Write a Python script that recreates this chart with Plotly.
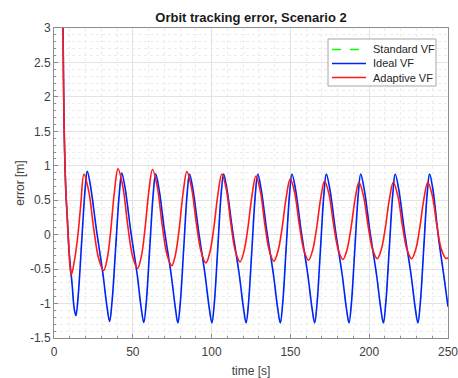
import plotly.graph_objects as go

# ---- data ----
time_adaptive = [5.3, 5.7, 6.35, 7.4, 8.5, 9.5, 10.3, 11.0,
                 12.8, 14.8, 16.9, 19.0,
                 22.1, 25.25, 28.4, 31.5,
                 33.8, 36.05, 38.3, 40.6,
                 43.7, 46.8, 49.9, 53.0,
                 55.4, 57.75, 60.1, 62.5,
                 65.55, 68.6, 71.65, 74.7,
                 77.1, 79.5, 81.9, 84.3,
                 87.3, 90.35, 93.4, 96.4,
                 98.9, 101.45, 104.0, 106.5,
                 109.4, 112.25, 115.1, 118.0,
                 120.5, 123.05, 125.6, 128.1,
                 130.95, 133.8, 136.65, 139.5,
                 142.1, 144.7, 147.3, 149.9,
                 152.8, 155.7, 158.6, 161.5,
                 164.05, 166.6, 169.15, 171.7,
                 174.6, 177.5, 180.4, 183.3,
                 185.85, 188.4, 190.95, 193.5,
                 196.4, 199.3, 202.2, 205.1,
                 207.65, 210.2, 212.75, 215.3,
                 218.2, 221.1, 224.0, 226.9,
                 229.5, 232.05, 234.6, 237.2,
                 240.1, 242.95, 245.8, 248.7, 250.0]
error_adaptive = [3.6, 3.05, 1.66, 0.70, 0.21, -0.22, -0.50, -0.585,
                  -0.40, -0.08, 0.41, 0.875,
                  0.624, 0.08, -0.353, -0.52,
                  -0.343, 0.07, 0.616, 0.955,
                  0.695, 0.131, -0.317, -0.49,
                  -0.318, 0.084, 0.615, 0.945,
                  0.694, 0.15, -0.283, -0.45,
                  -0.286, 0.096, 0.601, 0.915,
                  0.676, 0.16, -0.251, -0.41,
                  -0.255, 0.106, 0.583, 0.88,
                  0.651, 0.153, -0.242, -0.395,
                  -0.246, 0.103, 0.564, 0.85,
                  0.628, 0.146, -0.237, -0.385,
                  -0.242, 0.093, 0.535, 0.81,
                  0.598, 0.137, -0.228, -0.37,
                  -0.232, 0.09, 0.516, 0.78,
                  0.575, 0.13, -0.223, -0.36,
                  -0.226, 0.088, 0.502, 0.76,
                  0.56, 0.127, -0.217, -0.35,
                  -0.217, 0.094, 0.505, 0.76,
                  0.56, 0.127, -0.217, -0.35,
                  -0.217, 0.094, 0.505, 0.76,
                  0.561, 0.13, -0.212, -0.345, -0.335]

time_ideal = [5.3, 5.7, 6.35, 7.4, 8.5, 9.5, 11.6, 12.8, 13.9,
              15.3, 17.5, 19.7, 21.1, 23.2, 26.8, 31.0, 33.6, 35.3,
              36.8, 39.15, 41.5, 43.0, 45.1, 48.6, 52.8, 55.3, 57.0,
              58.5, 60.75, 63.0, 64.5, 66.6, 70.1, 74.4, 77.0, 78.6,
              80.1, 82.3, 84.5, 86.0, 88.1, 91.7, 95.9, 98.5, 100.2,
              101.7, 103.9, 106.1, 107.6, 109.7, 113.3, 117.6, 120.2, 121.9,
              123.4, 125.6, 127.8, 129.3, 131.4, 135.0, 139.3, 141.9, 143.6,
              145.1, 147.3, 149.5, 151.0, 153.2, 156.8, 161.1, 163.7, 165.4,
              166.9, 169.1, 171.3, 172.8, 175.0, 178.6, 182.9, 185.5, 187.2,
              188.7, 190.9, 193.1, 194.6, 196.8, 200.4, 204.7, 207.3, 209.0,
              210.5, 212.75, 215.0, 216.5, 218.7, 222.3, 226.6, 229.2, 230.9,
              232.4, 234.6, 236.8, 238.3, 240.4, 244.0, 247.5, 250.0]
error_ideal = [3.6, 3.05, 1.66, 0.70, 0.21, -0.22, -0.75, -1.07, -1.175,
               -0.903, -0.127, 0.648, 0.92, 0.702, 0.092, -0.562, -1.042, -1.26,
               -0.98, -0.182, 0.615, 0.895, 0.678, 0.07, -0.581, -1.058, -1.275,
               -0.994, -0.195, 0.604, 0.885, 0.669, 0.062, -0.587, -1.063, -1.28,
               -0.999, -0.2, 0.599, 0.88, 0.664, 0.059, -0.589, -1.064, -1.28,
               -0.999, -0.2, 0.599, 0.88, 0.664, 0.059, -0.589, -1.064, -1.28,
               -0.999, -0.2, 0.599, 0.88, 0.664, 0.059, -0.589, -1.064, -1.28,
               -0.999, -0.2, 0.599, 0.88, 0.664, 0.059, -0.589, -1.064, -1.28,
               -0.999, -0.2, 0.599, 0.88, 0.664, 0.059, -0.589, -1.064, -1.28,
               -0.999, -0.2, 0.599, 0.88, 0.664, 0.059, -0.589, -1.064, -1.28,
               -0.999, -0.2, 0.599, 0.88, 0.664, 0.059, -0.589, -1.064, -1.28,
               -0.999, -0.2, 0.599, 0.88, 0.66, -0.05, -0.62, -1.045]

# Standard VF coincides with the Ideal VF curve (hidden underneath it)
time_standard = time_ideal
error_standard = error_ideal

series_names = ["Standard VF", "Ideal VF", "Adaptive VF"]
series_colors = ["#00ff00", "#0022ff", "#ff1a1a"]
series_dash = ["dash", "solid", "solid"]
series_width = [0.8, 1.6, 1.6]

x_tick_vals = [0, 50, 100, 150, 200, 250]
x_tick_text = ["0", "50", "100", "150", "200", "250"]
y_tick_vals = [-1.5, -1, -0.5, 0, 0.5, 1, 1.5, 2, 2.5, 3]
y_tick_text = ["-1.5", "-1", "-0.5", "0", "0.5", "1", "1.5", "2", "2.5", "3"]

FONT = "Liberation Sans, Arial, sans-serif"

W, H = 458, 378
ML, MR, MT, MB = 54, 10, 28, 40
PW, PH = W - ML - MR, H - MT - MB

fig = go.Figure()
for name, t, e, c, d, w in zip(series_names,
                               [time_standard, time_ideal, time_adaptive],
                               [error_standard, error_ideal, error_adaptive],
                               series_colors, series_dash, series_width):
    fig.add_trace(go.Scatter(x=t, y=e, name=name, mode="lines", showlegend=False,
                             hoverinfo="skip",
                             line=dict(color=c, width=w, dash=d,
                                       shape="spline", smoothing=1.0)))

axis_common = dict(
    showline=True, linecolor="#8c8c8c", linewidth=1, mirror=True,
    ticks="inside", ticklen=4, tickcolor="#8c8c8c",
    showgrid=True, gridcolor="#e3e3e3", gridwidth=1,
    zeroline=False,
    tickfont=dict(family=FONT, size=12, color="#404040"),
    ticklabeloverflow="allow",
)

# ---- manual legend (box in pixel-derived paper coords) ----
def px_x(px):  # window px -> paper x
    return (px - ML) / PW

def px_y(py):  # window px -> paper y
    return 1 - (py - MT) / PH

shapes = [dict(type="rect", xref="paper", yref="paper",
               x0=px_x(328), x1=px_x(436), y0=px_y(86), y1=px_y(39),
               fillcolor="white", line=dict(color="#a6a6a6", width=1), layer="above")]
annotations = []
for i, (name, c, d) in enumerate(zip(series_names, series_colors, series_dash)):
    yy = px_y(49.5 + 14 * i)
    shapes.append(dict(type="line", xref="paper", yref="paper",
                       x0=px_x(332), x1=px_x(366), y0=yy, y1=yy,
                       line=dict(color=c, width=1.6, dash=d), layer="above"))
    annotations.append(dict(text=name, xref="paper", yref="paper", x=px_x(371), y=yy,
                            xanchor="left", yanchor="middle", showarrow=False,
                            font=dict(family=FONT, size=11, color="#262626")))

fig.update_layout(
    width=W, height=H,
    margin=dict(l=ML, r=MR, t=MT, b=MB),
    paper_bgcolor="white", plot_bgcolor="white",
    font=dict(family=FONT, color="#262626"),
    title=dict(text="<b>Orbit tracking error, Scenario 2</b>", x=0.5, xref="paper",
               y=1 - 17 / H, yref="container", yanchor="middle",
               font=dict(family=FONT, size=13, color="#1a1a1a")),
    showlegend=False,
    hovermode=False,
    shapes=shapes,
    annotations=annotations,
)
fig.update_xaxes(range=[0, 250], tickvals=x_tick_vals, ticktext=x_tick_text,
                 ticklabelstandoff=3,
                 title=dict(text="time [s]", font=dict(family=FONT, size=12, color="#404040"),
                            standoff=9),
                 minor=dict(dtick=10, showgrid=True, gridcolor="#ececec", griddash="dot",
                            ticks="inside", ticklen=2, tickcolor="#8c8c8c"),
                 automargin=False,
                 **axis_common)
fig.update_yaxes(range=[-1.5, 3], tickvals=y_tick_vals, ticktext=y_tick_text,
                 title=dict(text="error [m]", font=dict(family=FONT, size=12, color="#404040"),
                            standoff=2),
                 minor=dict(dtick=0.1, showgrid=True, gridcolor="#ececec", griddash="dot",
                            ticks="inside", ticklen=2, tickcolor="#8c8c8c"),
                 automargin=False,
                 **axis_common)

fig.write_html("out.html", config={"displayModeBar": False, "staticPlot": True},
               post_script="document.body.style.margin='0';document.body.style.overflow='hidden';")
